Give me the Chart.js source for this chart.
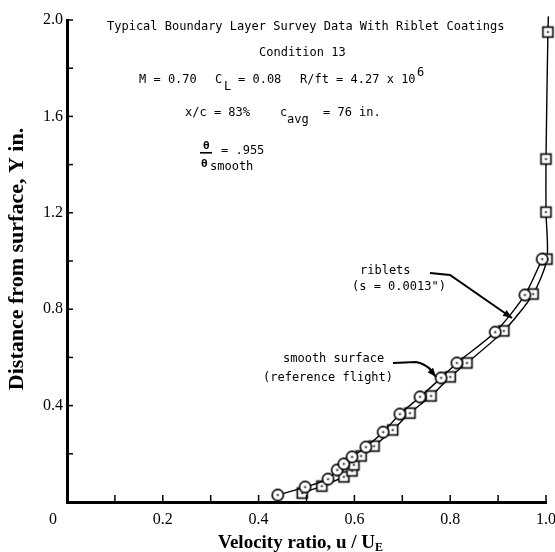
<!DOCTYPE html>
<html><head><meta charset="utf-8">
<script src="https://cdn.jsdelivr.net/npm/chart.js@4.4.0/dist/chart.umd.min.js"></script>
<style>html,body{margin:0;padding:0;background:#fff;}#wrap{width:555px;height:552px;}</style>
</head><body><div id="wrap"><canvas id="c" width="555" height="552"></canvas></div>
<script>
// ---- data ----
const smoothU = [0.44, 0.497, 0.545, 0.564, 0.578, 0.595, 0.624, 0.66, 0.695, 0.737, 0.781, 0.814, 0.894, 0.956, 0.992];
const smoothY = [0.029, 0.062, 0.095, 0.133, 0.158, 0.187, 0.228, 0.29, 0.365, 0.436, 0.515, 0.577, 0.705, 0.859, 1.008];
const ribletU = [0.491, 0.532, 0.578, 0.595, 0.599, 0.614, 0.641, 0.68, 0.716, 0.76, 0.80, 0.835, 0.912, 0.973, 1.002, 1.0, 1.0, 1.004, 1.005];
const ribletY = [0.037, 0.066, 0.104, 0.129, 0.154, 0.191, 0.232, 0.299, 0.369, 0.44, 0.519, 0.577, 0.71, 0.863, 1.008, 1.203, 1.423, 1.95, 2.015];
const ribletMarked = [1,1,1,1,1,1,1,1,1,1,1,1,1,1,1,1,1,1,0];
const xTickLabels = ['0.2', '0.4', '0.6', '0.8', '1.0'];
const yTickLabels = ['0.4', '0.8', '1.2', '1.6', '2.0'];
const xMinorTicks = [0.1, 0.2, 0.3, 0.4, 0.5, 0.6, 0.7, 0.8, 0.9, 1.0];
const yMinorTicks = [0.2, 0.4, 0.6, 0.8, 1.0, 1.2, 1.4, 1.6, 1.8, 2.0];

function makeMarker(type){
  const c = document.createElement('canvas'); c.width = 15; c.height = 15;
  const g = c.getContext('2d');
  g.fillStyle = '#fff'; g.strokeStyle = '#000'; g.lineWidth = 1.6;
  if (type === 'circle') { g.beginPath(); g.arc(7.5,7.5,5.6,0,Math.PI*2); g.fill(); g.stroke(); }
  else { g.fillRect(2.5,2.5,10,10); g.strokeRect(2.5,2.5,10,10); }
  g.fillStyle = '#000'; g.beginPath(); g.arc(7.5,7.5,1.1,0,Math.PI*2); g.fill();
  return c;
}
const circleImg = makeMarker('circle');
const squareImg = makeMarker('square');

const smoothData = smoothU.map((u,i)=>({x:u, y:smoothY[i]}));
const ribletData = ribletU.map((u,i)=>({x:u, y:ribletY[i]}));

const MONO = '"DejaVu Sans Mono", "Liberation Mono", monospace';
const SERIF = '"Liberation Serif", "Times New Roman", serif';

function arrow(ctx, pts){
  ctx.beginPath(); ctx.moveTo(pts[0][0], pts[0][1]);
  for (let i=1;i<pts.length;i++) ctx.lineTo(pts[i][0], pts[i][1]);
  ctx.stroke();
  const [x1,y1] = pts[pts.length-2], [x2,y2] = pts[pts.length-1];
  const a = Math.atan2(y2-y1, x2-x1), L = 9, W = 3.5;
  ctx.beginPath();
  ctx.moveTo(x2, y2);
  ctx.lineTo(x2 - L*Math.cos(a) + W*Math.sin(a), y2 - L*Math.sin(a) - W*Math.cos(a));
  ctx.lineTo(x2 - L*Math.cos(a) - W*Math.sin(a), y2 - L*Math.sin(a) + W*Math.cos(a));
  ctx.closePath(); ctx.fill();
}

const deco = {
  id: 'deco',
  afterDraw(chart){
    const {ctx, scales:{x, y}} = chart;
    ctx.save();
    ctx.strokeStyle = '#000'; ctx.fillStyle = '#000'; ctx.lineWidth = 1.5;
    // inward tick marks
    for (const v of xMinorTicks){ const p = x.getPixelForValue(v); ctx.beginPath(); ctx.moveTo(p, y.bottom); ctx.lineTo(p, y.bottom-7); ctx.stroke(); }
    for (const v of yMinorTicks){ const p = y.getPixelForValue(v); ctx.beginPath(); ctx.moveTo(x.left, p); ctx.lineTo(x.left+6, p); ctx.stroke(); }
    // origin label
    ctx.font = '16px ' + SERIF; ctx.textAlign = 'center'; ctx.textBaseline = 'middle';
    ctx.fillText('0', 53, 520);
    // axis titles
    ctx.font = 'bold 19px ' + SERIF; ctx.textAlign = 'left'; ctx.textBaseline = 'alphabetic';
    const t1 = 'Velocity ratio, u / U', w1 = ctx.measureText(t1).width;
    ctx.font = 'bold 12px ' + SERIF; const wE = ctx.measureText('E').width;
    const cx = (x.left + x.right)/2 - 6, sx = cx - (w1 + wE)/2;
    ctx.font = 'bold 19px ' + SERIF; ctx.fillText(t1, sx, 548);
    ctx.font = 'bold 12px ' + SERIF; ctx.fillText('E', sx + w1, 551);
    ctx.save(); ctx.translate(17, (y.top + y.bottom)/2 - 2); ctx.rotate(-Math.PI/2);
    ctx.font = 'bold 22px ' + SERIF; ctx.textAlign = 'center'; ctx.textBaseline = 'middle';
    ctx.fillText('Distance from surface, Y in.', 0, 0);
    ctx.restore();
    // typewriter annotations
    ctx.font = '12px ' + MONO; ctx.textAlign = 'left'; ctx.textBaseline = 'middle';
    ctx.fillText('Typical Boundary Layer Survey Data With Riblet Coatings', 107, 27);
    ctx.fillText('Condition 13', 259, 53);
    ctx.fillText('M = 0.70', 139, 80);
    ctx.fillText('C', 215, 80);
    ctx.fillText('L', 224, 87);
    ctx.fillText('= 0.08', 238, 80);
    ctx.fillText('R/ft = 4.27 x 10', 300, 80);
    ctx.fillText('6', 417, 73);
    ctx.fillText('x/c = 83%', 185, 113);
    ctx.fillText('c', 280, 113);
    ctx.fillText('avg', 287, 120);
    ctx.fillText('= 76 in.', 323, 113);
    ctx.font = 'bold 11px ' + MONO;
    ctx.fillText('θ', 203, 146);
    ctx.fillText('θ', 201, 164);
    ctx.fillRect(200, 152, 12, 1.6);
    ctx.font = '12px ' + MONO;
    ctx.fillText('smooth', 210, 167);
    ctx.fillText('= .955', 221, 151);
    ctx.fillText('riblets', 360, 271);
    ctx.fillText('(s = 0.0013")', 352, 287);
    ctx.fillText('smooth surface', 283, 359);
    ctx.fillText('(reference flight)', 263, 378);
    ctx.lineWidth = 2;
    arrow(ctx, [[430,273],[450,275],[512,318]]);
    ctx.beginPath(); ctx.moveTo(393,363); ctx.lineTo(416,362); ctx.quadraticCurveTo(426,364,432,371); ctx.stroke();
    arrow(ctx, [[428,367],[436,377]]);
    ctx.restore();
  }
};

new Chart(document.getElementById('c'), {
  type: 'line',
  data: {
    datasets: [
      { label: 'smooth surface', data: smoothData, borderColor: '#000', borderWidth: 1.4, tension: 0.25,
        pointStyle: circleImg, pointRadius: 5, fill: false },
      { label: 'riblets', data: ribletData, borderColor: '#000', borderWidth: 1.4, tension: 0.25,
        pointStyle: squareImg, pointRadius: ribletMarked.map(m => m ? 5 : 0), fill: false }
    ]
  },
  options: {
    responsive: false, animation: false, clip: false,
    layout: { padding: { top: 20, right: 9, left: 0, bottom: 0 } },
    plugins: { legend: { display: false }, tooltip: { enabled: false } },
    scales: {
      x: { type: 'linear', min: 0, max: 1.0,
        grid: { display: true, drawOnChartArea: false, drawTicks: false },
        border: { display: true, width: 3, color: '#000' },
        ticks: { stepSize: 0.2, padding: 8, color: '#000', font: { family: SERIF, size: 16 },
          callback: (v) => { const i = Math.round(v/0.2) - 1; return i >= 0 ? xTickLabels[i] : ''; } },
        afterFit: (s) => { s.height = 50; s.paddingLeft = 0; s.paddingRight = 0; }
      },
      y: { type: 'linear', min: 0, max: 2.0,
        grid: { display: true, drawOnChartArea: false, drawTicks: false },
        border: { display: true, width: 3, color: '#000' },
        ticks: { stepSize: 0.4, padding: 4, color: '#000', font: { family: SERIF, size: 16 },
          callback: (v) => { const i = Math.round(v/0.4) - 1; return i >= 0 ? yTickLabels[i] : ''; } },
        afterFit: (s) => { s.width = 67; s.paddingTop = 0; s.paddingBottom = 0; }
      }
    }
  },
  plugins: [deco]
});
</script></body></html>
